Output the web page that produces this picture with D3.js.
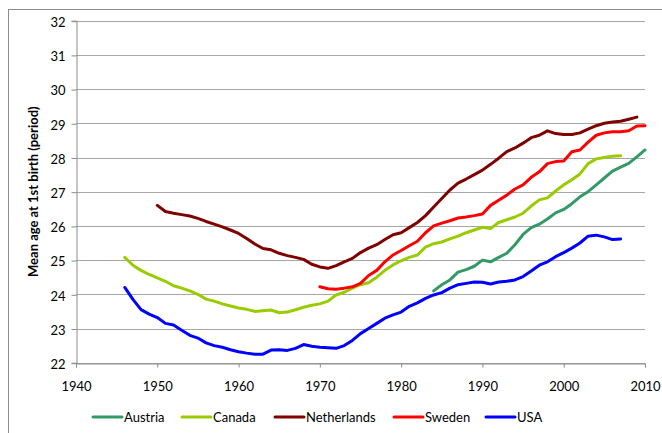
<!DOCTYPE html>
<html>
<head>
<meta charset="utf-8">
<script src="https://cdn.jsdelivr.net/npm/d3@7"></script>
<style>
    body { margin: 0; background: #fff; }
    svg { font-family: Lato, "Liberation Sans", sans-serif; }
</style>
</head>
<body>
<div id="vis-holder"></div>
<script>
// Mean age at first birth
const austriaYears = d3.range(1984, 2011);
const austria = [24.1, 24.28, 24.42, 24.65, 24.72, 24.82, 25.0, 24.95, 25.08, 25.2,
    25.45, 25.75, 25.95, 26.05, 26.2, 26.38, 26.48, 26.65, 26.85, 27.0,
    27.2, 27.4, 27.6, 27.72, 27.83, 28.02, 28.22];

const canadaYears = d3.range(1946, 2008);
const canada = [25.08, 24.85, 24.7, 24.58, 24.48, 24.38, 24.25, 24.18, 24.1, 24.0,
    23.86, 23.8, 23.72, 23.66, 23.6, 23.56, 23.5, 23.52, 23.54, 23.46,
    23.48, 23.55, 23.62, 23.68, 23.72, 23.8, 23.98, 24.06, 24.18, 24.28,
    24.34, 24.5, 24.7, 24.86, 24.98, 25.08, 25.15, 25.38, 25.48, 25.53,
    25.62, 25.7, 25.8, 25.88, 25.96, 25.92, 26.1, 26.18, 26.26, 26.37,
    26.58, 26.76, 26.82, 27.02, 27.2, 27.35, 27.52, 27.82, 27.96, 28.0,
    28.04, 28.05];

const netherlandsYears = d3.range(1950, 2010);
const netherlands = [26.6, 26.42, 26.37, 26.33, 26.29, 26.22, 26.13, 26.05, 25.97, 25.88,
    25.78, 25.63, 25.47, 25.34, 25.3, 25.2, 25.13, 25.08, 25.02, 24.88,
    24.8, 24.76, 24.84, 24.95, 25.05, 25.22, 25.35, 25.45, 25.6, 25.74,
    25.8, 25.95, 26.1, 26.3, 26.55, 26.8, 27.05, 27.25, 27.37, 27.5,
    27.63, 27.8, 27.98, 28.17, 28.28, 28.42, 28.58, 28.65, 28.78, 28.7,
    28.67, 28.67, 28.72, 28.83, 28.93, 29.0, 29.04, 29.06, 29.12, 29.18];

const swedenYears = d3.range(1970, 2011);
const sweden = [24.22, 24.16, 24.15, 24.18, 24.22, 24.32, 24.55, 24.7, 24.95, 25.15,
    25.28, 25.42, 25.55, 25.8, 26.0, 26.08, 26.15, 26.23, 26.26, 26.3,
    26.35, 26.6, 26.75, 26.9, 27.08, 27.2, 27.42, 27.58, 27.82, 27.88,
    27.9, 28.17, 28.22, 28.45, 28.65, 28.72, 28.75, 28.75, 28.78, 28.92,
    28.93];

const usaYears = d3.range(1946, 2008);
const usa = [24.2, 23.85, 23.55, 23.42, 23.32, 23.15, 23.1, 22.95, 22.8, 22.72,
    22.58, 22.5, 22.45, 22.38, 22.32, 22.28, 22.25, 22.25, 22.37, 22.38,
    22.36, 22.42, 22.53, 22.48, 22.45, 22.44, 22.42, 22.5, 22.65, 22.85,
    23.0, 23.15, 23.3, 23.4, 23.48, 23.65, 23.75, 23.88, 23.98, 24.05,
    24.18, 24.28, 24.32, 24.36, 24.35, 24.3, 24.36, 24.38, 24.42, 24.52,
    24.68, 24.85, 24.95, 25.1, 25.22, 25.35, 25.5, 25.7, 25.73, 25.68,
    25.6, 25.62];

const seriesNames = ["Austria", "Canada", "Netherlands", "Sweden", "USA"];
const seriesColors = ["#339966", "#99cc00", "#800000", "#ff0000", "#0000ff"];
const xTicks = [1940, 1950, 1960, 1970, 1980, 1990, 2000, 2010];
const yTicks = [22, 23, 24, 25, 26, 27, 28, 29, 30, 31, 32];

const series = [
    { name: "Austria", years: austriaYears, values: austria },
    { name: "Canada", years: canadaYears, values: canada },
    { name: "Netherlands", years: netherlandsYears, values: netherlands },
    { name: "Sweden", years: swedenYears, values: sweden },
    { name: "USA", years: usaYears, values: usa }
];

const width = 662, height = 433;
const margin = { top: 20.7, right: 17, bottom: 70.3, left: 76 };

const svg = d3.select("#vis-holder")
    .append("svg")
    .attr("width", width)
    .attr("height", height);

// chart frame (only top and left edges are visible in the original)
svg.append("rect")
    .attr("x", 8.5).attr("y", 9.5)
    .attr("width", width + 20).attr("height", height + 20)
    .attr("fill", "none")
    .attr("stroke", "#8c8c8c")
    .attr("stroke-width", 1);

const x = d3.scaleLinear()
    .domain([1940, 2010])
    .range([margin.left, width - margin.right]);
const y = d3.scaleLinear()
    .domain([22, 32])
    .range([height - margin.bottom, margin.top]);

// gridlines
svg.append("g")
    .selectAll("line")
    .data(yTicks)
    .enter().append("line")
    .attr("x1", x(1940)).attr("x2", x(2010))
    .attr("y1", d => Math.round(y(d)) + 0.5)
    .attr("y2", d => Math.round(y(d)) + 0.5)
    .attr("stroke", "#a6a6a6")
    .attr("stroke-width", 1);

// y axis
const yAxis = svg.append("g")
    .attr("transform", "translate(" + (x(1940) + 0.5) + ",0)")
    .call(d3.axisLeft(y).tickValues(yTicks).tickSize(5).tickPadding(6).tickFormat(d3.format("d")));

// x axis
const xAxis = svg.append("g")
    .attr("transform", "translate(0," + (Math.round(y(22)) + 0.5) + ")")
    .call(d3.axisBottom(x).tickValues(xTicks).tickSize(4).tickPadding(14).tickFormat(d3.format("d")));

[xAxis, yAxis].forEach(function (a) {
    a.select(".domain").attr("stroke", "#8c8c8c");
    a.selectAll(".tick line").attr("stroke", "#8c8c8c");
    a.selectAll("text")
        .attr("font-size", 13)
        .attr("fill", "#000")
        .style("font-family", "Lato, sans-serif");
});
yAxis.selectAll(".tick line")
    .attr("y1", 0.5).attr("y2", 0.5);
yAxis.selectAll(".tick text")
    .attr("dy", "0.45em");

// y axis title
svg.append("text")
    .attr("transform", "translate(38," + ((y(22) + y(32)) / 2) + ") rotate(-90)")
    .attr("text-anchor", "middle")
    .attr("font-size", 13)
    .attr("font-weight", "bold")
    .text("Mean age at 1st birth (period)");

const line = d3.line()
    .x(d => x(d[0]))
    .y(d => y(d[1]))
    .curve(d3.curveLinear);

svg.append("g")
    .selectAll("path")
    .data(series)
    .enter().append("path")
    .attr("d", d => line(d.years.map((yr, i) => [yr, d.values[i]])))
    .attr("fill", "none")
    .attr("stroke", (d, i) => seriesColors[i])
    .attr("stroke-width", 3)
    .attr("stroke-linejoin", "round")
    .attr("stroke-linecap", "round");

// legend
const legendX = [93, 182, 275, 394, 486];
const legend = svg.append("g")
    .selectAll("g")
    .data(seriesNames)
    .enter().append("g")
    .attr("transform", (d, i) => "translate(" + legendX[i] + ",417)");

legend.append("line")
    .attr("x1", 0).attr("x2", 29)
    .attr("y1", 0).attr("y2", 0)
    .attr("stroke", (d, i) => seriesColors[i])
    .attr("stroke-width", 3)
    .attr("stroke-linecap", "round");

legend.append("text")
    .attr("x", 31)
    .attr("y", 0)
    .attr("dy", "0.35em")
    .attr("font-size", 13)
    .text(d => d);
</script>
</body>
</html>
